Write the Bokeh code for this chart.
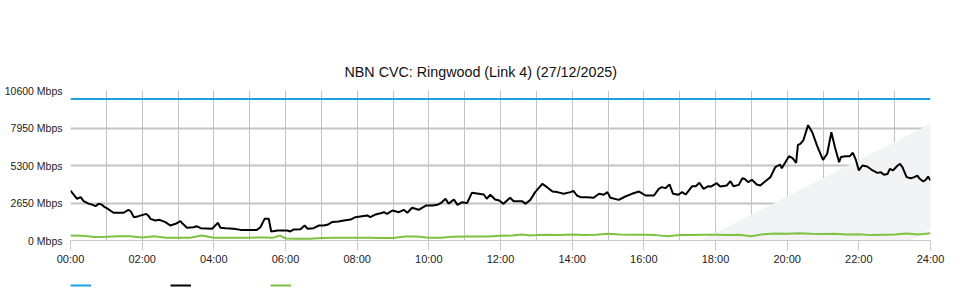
from bokeh.plotting import figure
from bokeh.layouts import column
from bokeh.models import (ColumnDataSource, Range1d, FixedTicker, Legend, LegendItem,
                          PolyAnnotation)
from bokeh.embed import file_html
from bokeh.resources import INLINE

TITLE = "NBN CVC: Ringwood (Link 4) (27/12/2025)"

y_ticks = [0, 2650, 5300, 7950, 10600]
y_tick_labels = ["0 Mbps", "2650 Mbps", "5300 Mbps", "7950 Mbps", "10600 Mbps"]
x_ticks = [0, 2, 4, 6, 8, 10, 12, 14, 16, 18, 20, 22, 24]
x_tick_labels = ["00:00", "02:00", "04:00", "06:00", "08:00", "10:00", "12:00",
                 "14:00", "16:00", "18:00", "20:00", "22:00", "24:00"]

capacity_times = ["00:00", "24:00"]
capacity_mbps = [10000, 10000]

down_times = [
    "00:00", "00:11", "00:17", "00:22", "00:31", "00:36", "00:42", "00:47", "00:52", "00:57",
    "01:00", "01:12", "01:29", "01:37", "01:41", "01:46", "01:54", "02:07", "02:11", "02:14",
    "02:22", "02:29", "02:39", "02:47", "02:56", "03:04", "03:08", "03:15", "03:26", "03:31",
    "03:38", "03:57", "04:07", "04:11", "04:20", "04:33", "04:45", "05:00", "05:12", "05:18",
    "05:25", "05:32", "05:36", "05:47", "06:03", "06:08", "06:14", "06:25", "06:32", "06:37",
    "06:47", "06:56", "07:04", "07:10", "07:18", "07:29", "07:38", "07:49", "07:57", "08:08",
    "08:17", "08:22", "08:31", "08:39", "08:45", "08:50", "08:59", "09:10", "09:18", "09:24",
    "09:32", "09:43", "09:55", "10:06", "10:14", "10:20", "10:28", "10:33", "10:42", "10:48",
    "10:56", "11:04", "11:12", "11:32", "11:37", "11:43", "11:51", "11:58", "12:05", "12:16",
    "12:22", "12:36", "12:42", "12:50", "12:58", "13:10", "13:18", "13:27", "13:35", "13:46",
    "13:57", "14:02", "14:08", "14:14", "14:25", "14:36", "14:45", "14:53", "14:59", "15:04",
    "15:18", "15:29", "15:40", "15:52", "16:03", "16:17", "16:25", "16:30", "16:36", "16:43",
    "16:49", "16:58", "17:04", "17:10", "17:21", "17:27", "17:33", "17:40", "17:48", "17:53",
    "18:02", "18:08", "18:19", "18:25", "18:30", "18:39", "18:45", "18:49", "18:55", "19:01",
    "19:09", "19:15", "19:23", "19:32", "19:40", "19:48", "19:51", "19:57", "20:03", "20:09",
    "20:15", "20:18", "20:22", "20:27", "20:35", "20:42", "20:50", "21:00", "21:07", "21:14",
    "21:20", "21:27", "21:30", "21:38", "21:45", "21:50", "21:55", "22:00", "22:06", "22:14",
    "22:23", "22:31", "22:37", "22:42", "22:48", "22:52", "22:57", "23:05", "23:09", "23:13",
    "23:20", "23:27", "23:33", "23:38", "23:42", "23:48", "23:52", "23:56", "24:00",
]
down_mbps = [
    3530, 2950, 3060, 2780, 2590, 2540, 2430, 2590, 2550, 2360,
    2310, 1960, 1960, 2170, 2050, 1650, 1720, 1880, 1720, 1530,
    1410, 1460, 1300, 1060, 1180, 1370, 1180, 900, 940, 1010,
    870, 830, 1250, 900, 870, 830, 750, 750, 750, 940,
    1530, 1530, 640, 710, 710, 640, 780, 800, 1060, 830,
    870, 1060, 1060, 1110, 1300, 1340, 1410, 1480, 1650, 1720,
    1770, 1650, 1840, 1930, 2000, 1880, 2120, 2000, 2170, 1960,
    2310, 2170, 2470, 2470, 2520, 2640, 2950, 2590, 2900, 2520,
    2710, 2640, 3370, 3250, 2950, 3230, 2900, 2830, 2590, 3020,
    2780, 2780, 2590, 2870, 3420, 4000, 3770, 3460, 3420, 3300,
    3420, 3500, 3180, 3060, 3060, 3020, 3300, 3230, 3420, 3020,
    2870, 3110, 3300, 3460, 3180, 3180, 3650, 3770, 3700, 3960,
    3300, 3230, 3420, 3250, 3840, 3840, 4080, 3650, 3840, 3820,
    4050, 3820, 3890, 4190, 3840, 3930, 4400, 4350, 4120, 4290,
    3960, 3890, 4170, 4480, 5180, 5370, 5110, 5530, 5960, 5820,
    5490, 6760, 6830, 7070, 8150, 7650, 6710, 5700, 6130, 7650,
    6590, 5530, 5900, 5960, 5960, 6200, 5700, 4950, 5300, 5230,
    4950, 4780, 4830, 4640, 4700, 5060, 4950, 5300, 5420, 5180,
    4480, 4400, 4480, 4590, 4360, 4170, 4290, 4520, 4240,
]

up_times = [
    "00:00", "00:20", "00:40", "01:00", "01:20", "01:40", "02:00", "02:20", "02:40", "03:00",
    "03:20", "03:40", "04:00", "04:20", "04:40", "05:00", "05:20", "05:40", "05:51", "06:00",
    "06:20", "06:40", "07:00", "07:20", "07:40", "08:00", "08:20", "08:40", "09:00", "09:20",
    "09:40", "10:00", "10:20", "10:40", "11:00", "11:20", "11:40", "12:00", "12:20", "12:36",
    "12:50", "13:00", "13:20", "13:40", "14:00", "14:20", "14:40", "15:00", "15:20", "15:40",
    "16:00", "16:20", "16:40", "17:00", "17:20", "17:40", "18:00", "18:20", "18:40", "19:00",
    "19:20", "19:40", "20:00", "20:20", "20:40", "21:00", "21:20", "21:40", "22:00", "22:20",
    "22:40", "23:00", "23:20", "23:40", "24:00",
]
up_mbps = [
    350, 330, 240, 260, 300, 300, 210, 300, 190, 190,
    190, 350, 190, 190, 190, 200, 220, 200, 350, 150,
    120, 120, 180, 200, 200, 190, 200, 170, 180, 280,
    280, 200, 190, 260, 280, 280, 290, 330, 350, 420,
    350, 380, 400, 380, 420, 380, 400, 470, 420, 400,
    400, 380, 300, 390, 380, 400, 410, 380, 400, 300,
    450, 500, 470, 520, 480, 460, 470, 420, 450, 380,
    400, 420, 500, 430, 520,
]

series_colors = ["#1ba1e2", "#000000", "#7dc242"]


def to_hours(t):
    h, m = t.split(":")
    return int(h) + int(m) / 60.0


FONT = "Liberation Sans"

src_cap = ColumnDataSource(dict(x=[to_hours(t) for t in capacity_times], y=capacity_mbps))
src_down = ColumnDataSource(dict(x=[to_hours(t) for t in down_times], y=down_mbps))
src_up = ColumnDataSource(dict(x=[to_hours(t) for t in up_times], y=up_mbps))
sources = [src_cap, src_down, src_up]

# ---------------- main chart ----------------
p = figure(width=960, height=270, x_range=Range1d(0, 24), y_range=Range1d(0, 10600),
           output_backend="svg", toolbar_location=None,
           min_border_left=70, min_border_right=30, min_border_top=90, min_border_bottom=30,
           background_fill_color="white", border_fill_color="white", outline_line_color=None)

p.title.text = TITLE
p.title.align = "left"
p.title.offset = 274
p.title.standoff = 22
p.title.text_font = FONT
p.title.text_font_size = "14.3px"
p.title.text_font_style = "normal"
p.title.text_color = "#111111"

# faint background watermark band (canvas pixels, decoration only)
p.add_layout(PolyAnnotation(xs=[598, 700, 960, 960, 802], ys=[300, 240, 108, 212, 300],
                            xs_units="canvas", ys_units="canvas", fill_color="#f2f3f5",
                            fill_alpha=1, line_color=None, level="underlay"))

for src, col in zip(sources, series_colors):
    p.line("x", "y", source=src, line_color=col, line_width=2)

p.yaxis.ticker = FixedTicker(ticks=y_ticks)
p.yaxis.major_label_overrides = {t: l for t, l in zip(y_ticks, y_tick_labels)}
p.yaxis.axis_line_color = None
p.yaxis.major_tick_line_color = None
p.yaxis.major_tick_in = 0
p.yaxis.major_tick_out = 0
p.yaxis.minor_tick_line_color = None
p.yaxis.minor_tick_out = 0
p.yaxis.major_label_standoff = 8
p.yaxis.major_label_text_font = FONT
p.yaxis.major_label_text_font_size = "10.5px"
p.yaxis.major_label_text_color = "#222222"

p.xaxis.ticker = FixedTicker(ticks=x_ticks)
p.xaxis.major_label_overrides = {t: l for t, l in zip(x_ticks, x_tick_labels)}
p.xaxis.axis_line_color = "#c8c8c8"
p.xaxis.major_tick_line_color = "#c8c8c8"
p.xaxis.major_tick_in = 0
p.xaxis.major_tick_out = 10
p.xaxis.minor_tick_line_color = None
p.xaxis.major_label_standoff = 2
p.xaxis.major_label_text_font = FONT
p.xaxis.major_label_text_font_size = "11px"
p.xaxis.major_label_text_color = "#222222"

p.xgrid.ticker = FixedTicker(ticks=list(range(25)))
p.xgrid.grid_line_color = "#c4c4c4"
p.xgrid.grid_line_width = 1
p.ygrid.grid_line_color = "#c4c4c4"
p.ygrid.grid_line_width = 2

# ---------------- legend strip (swatches only) ----------------
lg = figure(width=960, height=30, x_range=Range1d(0, 24), y_range=Range1d(-200, -100),
            output_backend="svg", toolbar_location=None,
            min_border_left=0, min_border_right=0, min_border_top=0, min_border_bottom=0,
            background_fill_color="white", border_fill_color="white", outline_line_color=None)
lg.axis.visible = False
lg.grid.visible = False
lg.title.visible = False
# same series drawn out of the strip's visible range; only their legend swatches show
leg_renderers = [lg.line("x", "y", source=src, line_color=col, line_width=2)
                 for src, col in zip(sources, series_colors)]
legend = Legend(items=[LegendItem(label=" ", renderers=[r]) for r in leg_renderers],
                location=(0, 5), orientation="horizontal", padding=0, margin=0,
                spacing=0, glyph_width=21, glyph_height=20, label_standoff=0,
                label_width=79, label_height=20, border_line_alpha=0,
                background_fill_alpha=0, label_text_font_size="11px")
lg.add_layout(legend, "center")

layout = column(p, lg, spacing=0)
open("out.html", "w").write(file_html(layout, INLINE))
